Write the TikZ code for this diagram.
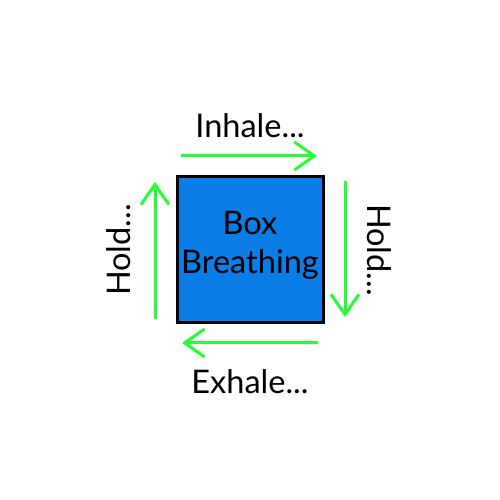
\documentclass[tikz,border=0pt]{standalone}
\usepackage{fontspec}
\setmainfont{Lato}
\usetikzlibrary{arrows.meta}
\definecolor{boxblue}{RGB}{10,125,230}
\definecolor{breathgreen}{RGB}{34,255,50}

\begin{document}
\begin{tikzpicture}[
        breath/.style={draw=breathgreen, line width=0.06cm, -{Straight Barb[length=0.4cm,width=0.56cm]}},
        label/.style={font=\fontsize{18.5}{22}\selectfont, inner sep=0pt}
    ]
        \useasboundingbox (0,0) rectangle (10,10);
        \node (box) at (5,5) [draw=black, fill=boxblue, line width=0.06cm, minimum size=2.92cm] {};
        \node (boxtext) at (5,5.1) [label, align=center] {Box\\Breathing};
        \coordinate (inS) at (3.62,6.88);
        \coordinate (inE) at (6.34,6.88);
        \coordinate (hrS) at (6.9,6.38);
        \coordinate (hrE) at (6.9,3.66);
        \coordinate (exS) at (6.36,3.14);
        \coordinate (exE) at (3.64,3.14);
        \coordinate (hlS) at (3.1,3.62);
        \coordinate (hlE) at (3.1,6.36);
        \draw [breath] (inS) -- (inE);
        \draw [breath] (hrS) -- (hrE);
        \draw [breath] (exS) -- (exE);
        \draw [breath] (hlS) -- (hlE);
        \node (inhale) at (5,7.24) [label, anchor=base] {Inhale...};
        \node (exhale) at (5,2.12) [label, anchor=base] {Exhale...};
        \node (holdL) at (2.6,5) [label, anchor=base, rotate=90] {Hold...};
        \node (holdR) at (7.34,5) [label, anchor=base, rotate=-90] {Hold...};
    \end{tikzpicture}
\end{document}
